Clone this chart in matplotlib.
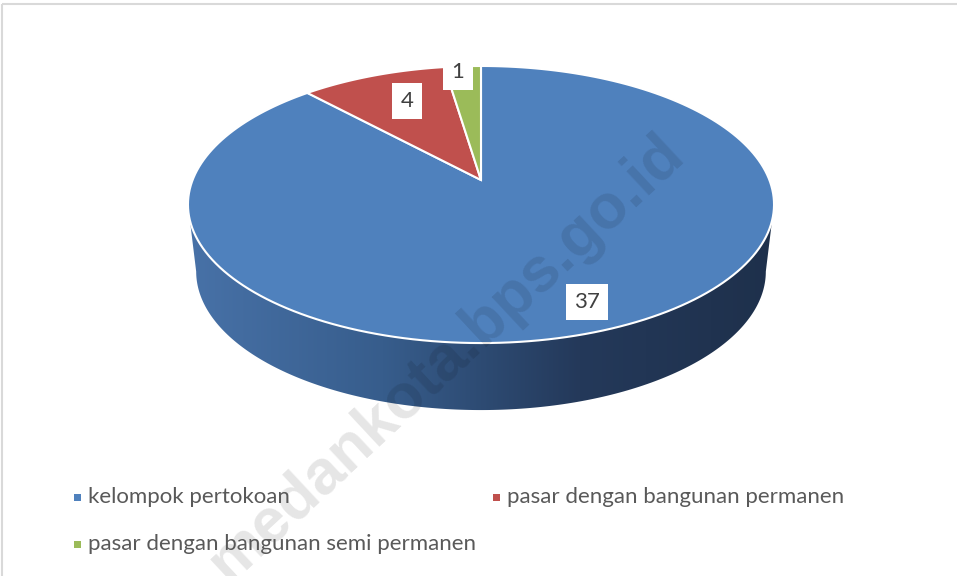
import numpy as np
import matplotlib.pyplot as plt
from matplotlib.patches import Polygon, Rectangle
from matplotlib.colors import LinearSegmentedColormap

# data
categories = ["kelompok pertokoan", "pasar dengan bangunan permanen",
              "pasar dengan bangunan semi permanen"]
values = [37, 4, 1]
colors = ["#4f81bd", "#c0504d", "#9bbb59"]
label_pos = [(587, 302), (407, 101), (458, 72)]  # data label centres (px)

W, H = 957, 576
fig = plt.figure(figsize=(W / 100, H / 100), dpi=100)
ax = fig.add_axes([0, 0, 1, 1])
ax.set_xlim(0, W)
ax.set_ylim(H, 0)
ax.axis("off")

# perspective parameters of the tilted pie
cx, cy = 481, 180
a, b, k = 288.4, 134.2, 0.177
depth, shrink = 67, 0.972


def proj(theta, bottom=False):
    # theta in degrees, clockwise from 12 o'clock
    t = np.radians(theta)
    x, y = np.sin(t), np.cos(t)
    d = 1 + k * y
    X = cx + a * x / d
    Y = cy - b * y / d
    if bottom:
        X = cx + (X - cx) * shrink
        Y = Y + depth
    return X, Y


# side wall (front half, only the big slice is visible there)
ext = np.degrees(np.arccos(-k))
t_front = np.linspace(ext, 360 - ext, 200)
tx, ty = proj(t_front)
bx, by = proj(t_front[::-1], bottom=True)
side = Polygon(np.column_stack([np.r_[tx, bx], np.r_[ty, by]]),
               closed=True, facecolor="none", edgecolor="none")
ax.add_patch(side)
cmap = LinearSegmentedColormap.from_list(
    "side", ["#4872a8", "#375d8c", "#24395a", "#1e304b"], N=256)
grad = np.linspace(0, 1, 256)[None, :]
im = ax.imshow(grad, cmap=cmap, extent=[185, 778, 430, 150],
               aspect="auto", zorder=1)
im.set_clip_path(side)

# top face slices
total = sum(values)
start = 0.0
for val, col in zip(values, colors):
    end = start + val / total * 360
    t = np.linspace(start, end, 200)
    px, py = proj(t)
    pts = np.column_stack([np.r_[cx, px], np.r_[cy, py]])
    ax.add_patch(Polygon(pts, closed=True, facecolor=col, edgecolor="white",
                         lw=1.5, joinstyle="miter", zorder=2))
    start = end

# watermark (sits under the data labels)
ax.text(446, 358, "medankota.bps.go.id", rotation=43, fontsize=45,
        fontweight="bold", family="Liberation Sans", color="black",
        alpha=0.1, ha="center", va="center", zorder=3)

# data labels
for val, (lx, ly) in zip(values, label_pos):
    ax.text(lx, ly, str(val), ha="center", va="center", fontsize=16,
            family="Lato", color="#404040", zorder=4,
            bbox=dict(boxstyle="square,pad=0.38", fc="white", ec="none"))

# legend
leg_pos = [(77, 497), (496, 497), (77, 544)]
for name, col, (lx, ly) in zip(categories, colors, leg_pos):
    ax.add_patch(Rectangle((lx - 3.5, ly - 3.5), 7, 7, facecolor=col,
                           edgecolor="none", zorder=4))
    ax.text(lx + 11, ly, name, ha="left", va="center", fontsize=16,
            family="Lato", color="#595959", zorder=4)

# chart border
ax.add_patch(Rectangle((2, 4), 1200, 1000, fill=False, edgecolor="#d9d9d9",
                       lw=1.5, zorder=6))

fig.savefig("out.png", dpi=100)
